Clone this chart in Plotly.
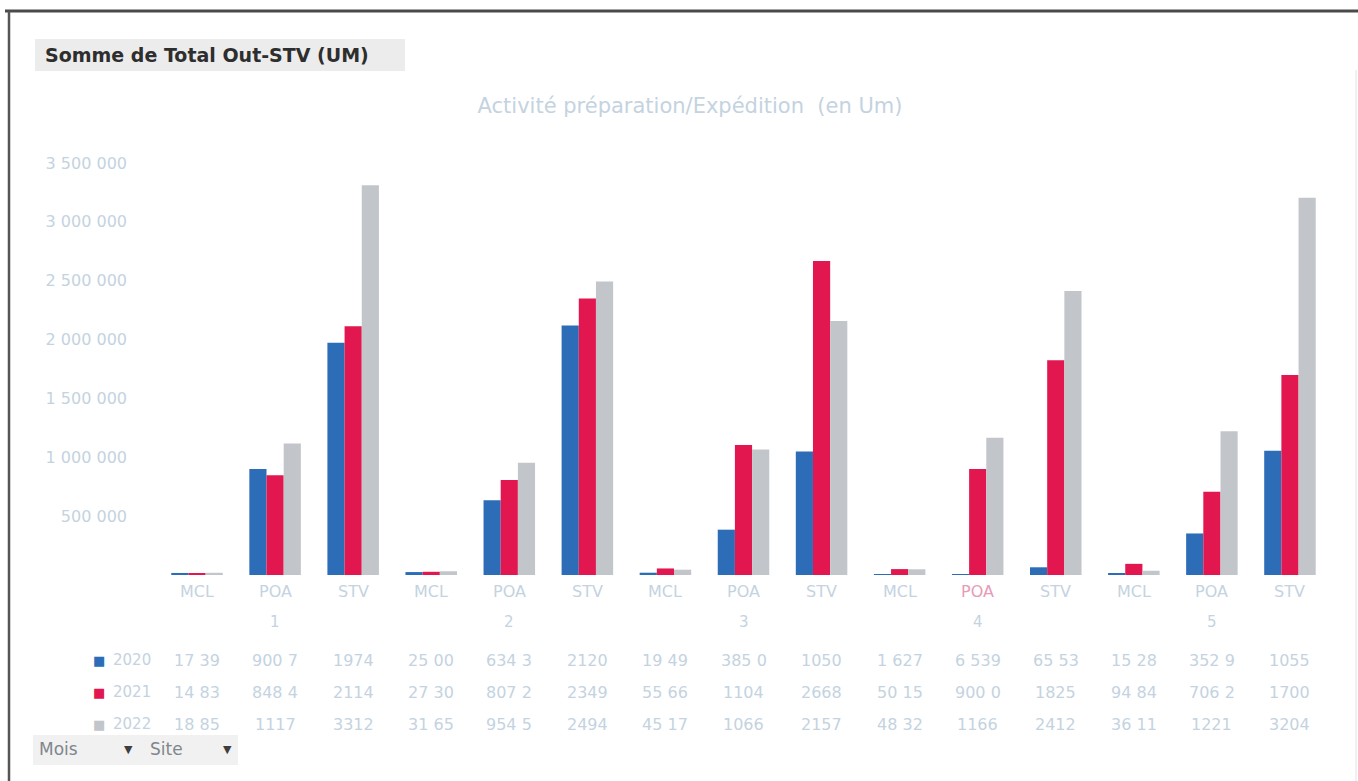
import plotly.graph_objects as go

# ---------------- data ----------------
mois = ["1", "2", "3", "4", "5"]
sites = ["MCL", "POA", "STV"]
categories = [f"{s} {m}" for m in mois for s in sites]

years = ["2020", "2021", "2022"]
v2020 = [17390, 900700, 1974000, 25000, 634300, 2120000, 19490, 385000, 1050000,
         1627, 6539, 65530, 15280, 352900, 1055000]
v2021 = [14830, 848400, 2114000, 27300, 807200, 2349000, 55660, 1104000, 2668000,
         50150, 900000, 1825000, 94840, 706200, 1700000]
v2022 = [18850, 1117000, 3312000, 31650, 954500, 2494000, 45170, 1066000, 2157000,
         48320, 1166000, 2412000, 36110, 1221000, 3204000]

# data-table texts as shown (truncated cells)
t2020 = ["17 39", "900 7", "1974", "25 00", "634 3", "2120", "19 49", "385 0", "1050",
         "1 627", "6 539", "65 53", "15 28", "352 9", "1055"]
t2021 = ["14 83", "848 4", "2114", "27 30", "807 2", "2349", "55 66", "1104", "2668",
         "50 15", "900 0", "1825", "94 84", "706 2", "1700"]
t2022 = ["18 85", "1117", "3312", "31 65", "954 5", "2494", "45 17", "1066", "2157",
         "48 32", "1166", "2412", "36 11", "1221", "3204"]

y_ticks = [500000, 1000000, 1500000, 2000000, 2500000, 3000000, 3500000]
y_ticktext = ["500 000", "1 000 000", "1 500 000", "2 000 000", "2 500 000",
              "3 000 000", "3 500 000"]

colors = ["#2d6db8", "#e2174f", "#c2c6cb"]
pale = "#c4d3df"
FONT = "DejaVu Sans"

# ---------------- figure ----------------
W, H = 1358, 781
L, R, T, B = 158, 1329, 163, 575  # plot area in pixels


def px(x):
    return (x - L) / (R - L)


def py(y):
    return (B - y) / (B - T)


fig = go.Figure()
for name, vals, col in zip(years, [v2020, v2021, v2022], colors):
    fig.add_trace(go.Bar(x=categories, y=vals, name=name, marker_color=col,
                         marker_line_width=0, showlegend=False))

ann = []
# site labels and month labels
for c in categories:
    site, m = c.split(" ")
    col = "#e79bb6" if c == "POA 4" else pale
    ann.append(dict(x=c, y=py(591), xref="x", yref="paper", text=site, showarrow=False,
                    font=dict(color=col, size=16, family=FONT), yanchor="middle"))
    if site == "POA":
        ann.append(dict(x=c, y=py(622), xref="x", yref="paper", text=m, showarrow=False,
                        font=dict(color=pale, size=15, family=FONT), yanchor="middle"))

# data table
row_y = [660, 692, 724]
for yr, texts, col, ry in zip(years, [t2020, t2021, t2022], colors, row_y):
    for c, t in zip(categories, texts):
        ann.append(dict(x=c, y=py(ry), xref="x", yref="paper", text=t, showarrow=False,
                        font=dict(color=pale, size=16, family=FONT), yanchor="middle"))
    ann.append(dict(x=px(91), y=py(ry), xref="paper", yref="paper", text="■",
                    showarrow=False, font=dict(color=col, size=13, family="DejaVu Sans"),
                    yanchor="middle"))
    ann.append(dict(x=px(111), y=py(ry), xref="paper", yref="paper", text=yr,
                    showarrow=False, xanchor="left",
                    font=dict(color=pale, size=15, family=FONT), yanchor="middle"))

# field buttons
ann.append(dict(x=px(43), y=py(55), xref="paper", yref="paper",
                text="<b>Somme de Total Out-STV (UM)</b>", showarrow=False,
                xanchor="left", yanchor="middle",
                font=dict(color="#2e2e2e", size=19, family=FONT)))
ann.append(dict(x=px(37), y=py(749), xref="paper", yref="paper", text="Mois",
                showarrow=False, xanchor="left", yanchor="middle",
                font=dict(color="#80868c", size=17, family=FONT)))
ann.append(dict(x=px(122), y=py(749), xref="paper", yref="paper", text="▼",
                showarrow=False, yanchor="middle",
                font=dict(color="#3e3e3e", size=11, family="DejaVu Sans")))
ann.append(dict(x=px(148), y=py(749), xref="paper", yref="paper", text="Site",
                showarrow=False, xanchor="left", yanchor="middle",
                font=dict(color="#80868c", size=17, family=FONT)))
ann.append(dict(x=px(221), y=py(749), xref="paper", yref="paper", text="▼",
                showarrow=False, yanchor="middle",
                font=dict(color="#3e3e3e", size=11, family="DejaVu Sans")))

shapes = [
    # top button
    dict(type="rect", xref="paper", yref="paper", x0=px(35), x1=px(405), y0=py(71), y1=py(39),
         fillcolor="#ececec", line=dict(width=0), layer="below"),
    # bottom buttons
    dict(type="rect", xref="paper", yref="paper", x0=px(33), x1=px(238), y0=py(765), y1=py(735),
         fillcolor="#f1f1f1", line=dict(width=0), layer="below"),
    # scan border
    dict(type="line", xref="paper", yref="paper", x0=px(5), x1=px(1358), y0=py(11), y1=py(11),
         line=dict(color="#4a4a4a", width=3)),
    dict(type="line", xref="paper", yref="paper", x0=px(9), x1=px(9), y0=py(11), y1=py(781),
         line=dict(color="#555555", width=2.5)),
    dict(type="line", xref="paper", yref="paper", x0=px(1356), x1=px(1356), y0=py(70), y1=py(781),
         line=dict(color="#e3e3e3", width=1)),
]

fig.update_layout(
    width=W, height=H,
    margin=dict(l=L, r=W - R, t=T, b=H - B, pad=0),
    paper_bgcolor="white", plot_bgcolor="white",
    barmode="group", bargap=0.34, bargroupgap=0,
    title=dict(text="Activité préparation/Expédition  (en Um)", x=690 / W, xanchor="center",
               y=1 - 106 / H, yanchor="middle",
               font=dict(color=pale, size=21, family=FONT)),
    xaxis=dict(type="category", showticklabels=False, showgrid=False, showline=False,
               zeroline=False, ticks=""),
    yaxis=dict(range=[0, 3500000], tickvals=y_ticks, ticktext=y_ticktext, showgrid=False,
               zeroline=False, showline=False, ticks="", ticklabelstandoff=30,
               tickfont=dict(color=pale, size=16, family=FONT)),
    annotations=ann,
    shapes=shapes,
    font=dict(family=FONT),
)

fig.write_html("out.html", config={"displayModeBar": False},
               post_script="document.body.style.margin='0';document.body.style.overflow='hidden';")
